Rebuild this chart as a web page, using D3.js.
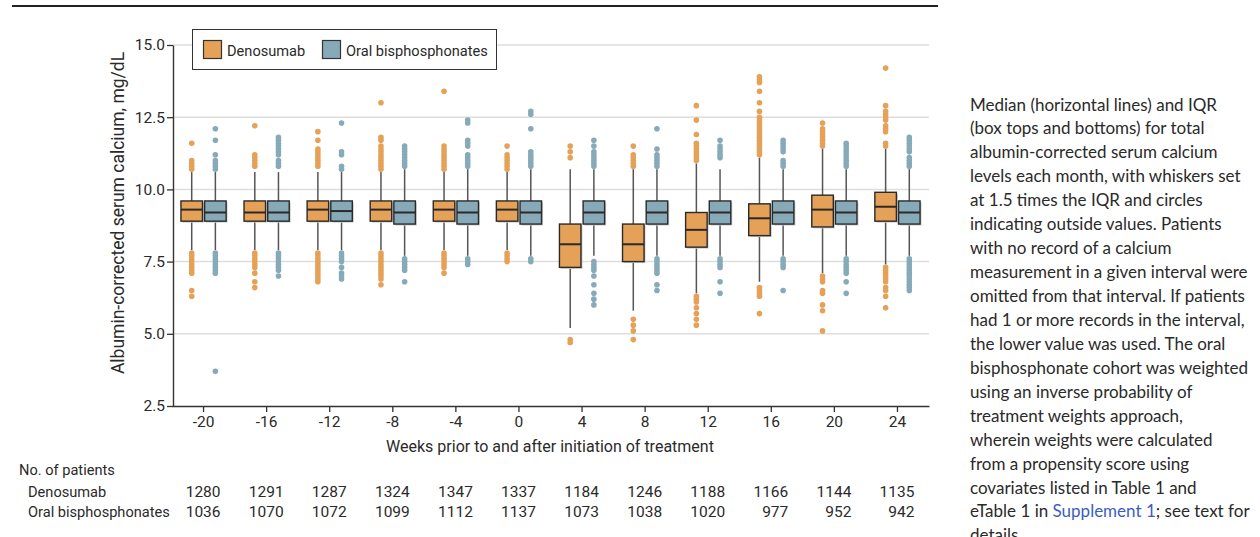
<!DOCTYPE html>
<html>
<head>
<meta charset="utf-8">
<script src="https://cdn.jsdelivr.net/npm/d3@7"></script>
<style>
body { margin: 0; background: #fff; }
svg text { font-family: Roboto, sans-serif; fill: #2a2a2a; }
</style>
</head>
<body>
<svg id="chart" width="1260" height="537"></svg>
<script>
// weeks relative to treatment start
var weeks = [-20, -16, -12, -8, -4, 0, 4, 8, 12, 16, 20, 24];

// Denosumab box stats (mg/dL)
var denoQ1  = [8.9, 8.9, 8.9, 8.9, 8.9, 8.9, 7.3, 7.5, 8.0, 8.4, 8.7, 8.9];
var denoMed = [9.3, 9.2, 9.3, 9.3, 9.3, 9.3, 8.1, 8.1, 8.6, 9.0, 9.3, 9.4];
var denoQ3  = [9.6, 9.6, 9.6, 9.6, 9.6, 9.6, 8.8, 8.8, 9.2, 9.5, 9.8, 9.9];
var denoLo  = [7.9, 7.9, 7.9, 7.9, 7.9, 7.9, 5.2, 5.8, 6.4, 6.8, 7.1, 7.4];
var denoHi  = [10.6, 10.6, 10.6, 10.6, 10.6, 10.6, 10.7, 10.7, 10.9, 11.1, 11.4, 11.4];
var denoOut = [
  [10.7, 10.8, 10.9, 11.0, 11.6, 7.8, 7.7, 7.6, 7.5, 7.4, 7.3, 7.2, 7.1, 6.5, 6.3],
  [10.8, 10.9, 11.0, 11.1, 11.2, 12.2, 7.8, 7.7, 7.6, 7.5, 7.4, 7.3, 7.1, 6.8, 6.6],
  [10.8, 10.9, 11.0, 11.1, 11.2, 11.3, 11.4, 11.7, 12.0, 7.8, 7.7, 7.6, 7.5, 7.4, 7.3, 7.2, 7.1, 7.0, 6.9, 6.8],
  [10.7, 10.8, 10.9, 11.0, 11.1, 11.2, 11.3, 11.4, 11.5, 11.7, 11.8, 13.0, 7.8, 7.7, 7.6, 7.5, 7.4, 7.3, 7.2, 7.1, 7.0, 6.9, 6.7],
  [10.7, 10.8, 10.9, 11.0, 11.1, 11.2, 11.3, 11.4, 11.5, 13.4, 7.8, 7.7, 7.6, 7.5, 7.4, 7.3, 7.1],
  [10.7, 10.8, 10.9, 11.0, 11.1, 11.2, 11.5, 7.8, 7.7, 7.6, 7.5],
  [11.1, 11.3, 11.5, 4.8, 4.7],
  [10.8, 10.9, 11.0, 11.1, 11.2, 11.5, 5.5, 5.3, 5.1, 4.8],
  [11.0, 11.1, 11.2, 11.3, 11.4, 11.5, 11.6, 11.9, 12.4, 12.9, 6.3, 6.2, 6.1, 5.9, 5.7, 5.5, 5.3],
  [11.2, 11.3, 11.4, 11.5, 11.6, 11.7, 11.8, 11.9, 12.0, 12.1, 12.2, 12.3, 12.4, 12.5, 12.7, 13.0, 13.4, 13.7, 13.8, 13.9, 6.6, 6.5, 6.4, 6.3, 5.7],
  [11.5, 11.6, 11.7, 11.8, 11.9, 12.0, 12.1, 12.3, 7.0, 6.9, 6.8, 6.5, 6.4, 6.0, 5.8, 5.1],
  [11.5, 11.6, 12.0, 12.1, 12.2, 12.4, 12.5, 12.6, 12.7, 12.9, 14.2, 7.3, 7.2, 7.1, 7.0, 6.9, 6.8, 6.6, 6.5, 6.3, 5.9]
];

// Oral bisphosphonates box stats (mg/dL)
var oralQ1  = [8.9, 8.9, 8.9, 8.8, 8.8, 8.8, 8.8, 8.8, 8.8, 8.8, 8.8, 8.8];
var oralMed = [9.2, 9.2, 9.25, 9.2, 9.2, 9.2, 9.2, 9.2, 9.2, 9.2, 9.2, 9.2];
var oralQ3  = [9.6, 9.6, 9.6, 9.6, 9.6, 9.6, 9.6, 9.6, 9.6, 9.6, 9.6, 9.6];
var oralLo  = [7.9, 7.9, 7.9, 7.7, 7.7, 7.7, 7.7, 7.7, 7.7, 7.7, 7.7, 7.7];
var oralHi  = [10.6, 10.6, 10.6, 10.7, 10.7, 10.7, 10.7, 10.7, 10.7, 10.7, 10.7, 10.7];
var oralOut = [
  [10.7, 10.8, 10.9, 11.0, 11.2, 11.7, 12.1, 7.8, 7.7, 7.6, 7.5, 7.4, 7.3, 7.2, 7.1, 3.7],
  [10.8, 10.9, 11.0, 11.2, 11.3, 11.4, 11.5, 11.6, 11.7, 11.8, 7.8, 7.7, 7.6, 7.5, 7.4, 7.3, 7.2, 7.0],
  [10.7, 10.8, 11.2, 11.3, 12.3, 7.8, 7.7, 7.6, 7.5, 7.3, 7.1, 7.0, 6.9],
  [10.8, 10.9, 11.0, 11.1, 11.2, 11.3, 11.4, 11.5, 7.6, 7.5, 7.4, 7.3, 7.2, 6.8],
  [10.8, 10.9, 11.0, 11.1, 11.2, 11.5, 11.6, 11.7, 12.3, 12.4, 7.6, 7.5, 7.4],
  [10.8, 10.9, 11.0, 11.1, 11.2, 11.3, 12.1, 12.6, 12.7, 7.6, 7.5],
  [10.8, 10.9, 11.0, 11.1, 11.2, 11.3, 11.5, 11.7, 7.5, 7.4, 7.3, 7.2, 7.0, 6.7, 6.4, 6.2, 6.0],
  [10.8, 10.9, 11.0, 11.1, 11.2, 11.4, 12.1, 7.6, 7.5, 7.4, 7.3, 7.2, 7.1, 6.7, 6.5],
  [11.1, 11.2, 11.3, 11.4, 11.5, 11.7, 7.6, 7.5, 7.4, 7.3, 6.8, 6.4],
  [10.8, 10.9, 11.0, 11.3, 11.4, 11.5, 11.6, 11.7, 7.6, 7.5, 7.4, 7.3, 6.5],
  [10.8, 10.9, 11.0, 11.1, 11.2, 11.3, 11.4, 11.5, 11.6, 7.6, 7.5, 7.4, 7.3, 7.2, 7.1, 6.8, 6.4],
  [10.8, 10.9, 11.0, 11.1, 11.3, 11.4, 11.5, 11.6, 11.7, 11.8, 7.6, 7.5, 7.4, 7.3, 7.2, 7.1, 7.0, 6.9, 6.8, 6.7, 6.6, 6.5]
];

// No. of patients
var nDeno = [1280, 1291, 1287, 1324, 1347, 1337, 1184, 1246, 1188, 1166, 1144, 1135];
var nOral = [1036, 1070, 1072, 1099, 1112, 1137, 1073, 1038, 1020, 977, 952, 942];

var yTicks = [2.5, 5.0, 7.5, 10.0, 12.5, 15.0];
var seriesNames = ["Denosumab", "Oral bisphosphonates"];
var seriesColors = ["#e5a157", "#86aab7"];

var captionLines = [
  "Median (horizontal lines) and IQR",
  "(box tops and bottoms) for total",
  "albumin-corrected serum calcium",
  "levels each month, with whiskers set",
  "at 1.5 times the IQR and circles",
  "indicating outside values. Patients",
  "with no record of a calcium",
  "measurement in a given interval were",
  "omitted from that interval. If patients",
  "had 1 or more records in the interval,",
  "the lower value was used. The oral",
  "bisphosphonate cohort was weighted",
  "using an inverse probability of",
  "treatment weights approach,",
  "wherein weights were calculated",
  "from a propensity score using",
  "covariates listed in Table 1 and",
  "eTable 1 in |Supplement 1|; see text for",
  "details."
];

var svg = d3.select("#chart");

// top rule
svg.append("line")
  .attr("x1", 12).attr("x2", 938).attr("y1", 6).attr("y2", 6)
  .attr("stroke", "#222").attr("stroke-width", 2);

var x = d3.scaleBand().domain(weeks).range([172, 929]);
var xi = d3.scaleBand().domain([0, 1]).range([-22.6, 22.6]).paddingInner(0.09);
var y = d3.scaleLinear().domain([2.5, 15]).range([406, 45]);
var bw = xi.bandwidth();

// gridlines
svg.append("g").selectAll("line")
  .data(yTicks.slice(1))
  .enter().append("line")
  .attr("x1", 173).attr("x2", 929)
  .attr("y1", d => y(d)).attr("y2", d => y(d))
  .attr("stroke", "#dedede").attr("stroke-width", 1.5);

// build groups
var groups = [];
weeks.forEach(function (w, i) {
  groups.push({w: w, s: 0, q1: denoQ1[i], med: denoMed[i], q3: denoQ3[i], lo: denoLo[i], hi: denoHi[i], out: denoOut[i]});
  groups.push({w: w, s: 1, q1: oralQ1[i], med: oralMed[i], q3: oralQ3[i], lo: oralLo[i], hi: oralHi[i], out: oralOut[i]});
});
function cx(d) { return x(d.w) + x.bandwidth() / 2 + xi(d.s) + bw / 2; }

var g = svg.append("g");
// whiskers
g.selectAll("line.whisker")
  .data(groups).enter().append("line")
  .attr("class", "whisker")
  .attr("x1", cx).attr("x2", cx)
  .attr("y1", d => y(d.lo)).attr("y2", d => y(d.hi))
  .attr("stroke", "#555").attr("stroke-width", 1.5);

// outliers
groups.forEach(function (d) {
  g.selectAll(null)
    .data(d.out).enter().append("circle")
    .attr("cx", cx(d))
    .attr("cy", v => y(v))
    .attr("r", 2.8)
    .attr("fill", seriesColors[d.s]);
});

// box shadows
g.selectAll("rect.shadow")
  .data(groups).enter().append("rect")
  .attr("x", d => cx(d) - bw / 2 + 1.5)
  .attr("y", d => y(d.q3) + 1.5)
  .attr("width", bw)
  .attr("height", d => y(d.q1) - y(d.q3))
  .attr("fill", "#cfcfcf");

// boxes
g.selectAll("rect.box")
  .data(groups).enter().append("rect")
  .attr("x", d => cx(d) - bw / 2)
  .attr("y", d => y(d.q3))
  .attr("width", bw)
  .attr("height", d => y(d.q1) - y(d.q3))
  .attr("fill", d => seriesColors[d.s])
  .attr("stroke", "#2a2a2a").attr("stroke-width", 1.4);

// medians
g.selectAll("line.median")
  .data(groups).enter().append("line")
  .attr("x1", d => cx(d) - bw / 2).attr("x2", d => cx(d) + bw / 2)
  .attr("y1", d => y(d.med)).attr("y2", d => y(d.med))
  .attr("stroke", "#2a2a2a").attr("stroke-width", 2);

// axes
var yAxis = svg.append("g")
  .attr("transform", "translate(173,0)")
  .call(d3.axisLeft(y).tickValues(yTicks).tickFormat(d3.format(".1f")).tickSize(6).tickSizeOuter(0));
var xAxis = svg.append("g")
  .attr("transform", "translate(0,406)")
  .call(d3.axisBottom(x).tickSize(6).tickSizeOuter(0));
[yAxis, xAxis].forEach(function (a) {
  a.select(".domain").attr("stroke", "#333").attr("stroke-width", 1.4);
  a.selectAll(".tick line").attr("stroke", "#333").attr("stroke-width", 1.3);
  a.selectAll(".tick text").attr("font-size", 15.5).attr("fill", "#2a2a2a")
    .style("font-family", "Roboto, sans-serif");
});
yAxis.selectAll(".tick text").attr("x", -8);
xAxis.selectAll(".tick text").attr("y", 10);

// axis titles
svg.append("text")
  .attr("transform", "translate(124,213) rotate(-90)")
  .attr("text-anchor", "middle")
  .attr("font-size", 17.5)
  .text("Albumin-corrected serum calcium, mg/dL");
svg.append("text")
  .attr("x", 550).attr("y", 452)
  .attr("text-anchor", "middle")
  .attr("font-size", 16)
  .text("Weeks prior to and after initiation of treatment");

// legend
var leg = svg.append("g");
leg.append("rect")
  .attr("x", 192.5).attr("y", 29.5).attr("width", 304).attr("height", 40)
  .attr("fill", "#fff").attr("stroke", "#333").attr("stroke-width", 1);
var legX = [203, 322];
seriesNames.forEach(function (name, i) {
  leg.append("rect")
    .attr("x", legX[i] + 0.5).attr("y", 40.5).attr("width", 18).attr("height", 18)
    .attr("fill", seriesColors[i]).attr("stroke", "#333").attr("stroke-width", 1.2);
  leg.append("text")
    .attr("x", legX[i] + 24).attr("y", 55.5)
    .attr("font-size", 14.6)
    .text(name);
});

// patients table
svg.append("text").attr("x", 19).attr("y", 475).attr("font-size", 14.6).text("No. of patients");
svg.append("text").attr("x", 28).attr("y", 497).attr("font-size", 14.6).text(seriesNames[0]);
svg.append("text").attr("x", 28).attr("y", 517).attr("font-size", 14.6).text(seriesNames[1]);
[nDeno, nOral].forEach(function (arr, r) {
  svg.append("g").selectAll("text")
    .data(arr).enter().append("text")
    .attr("x", (d, i) => x(weeks[i]) + x.bandwidth() / 2 + 17)
    .attr("y", 497 + r * 20)
    .attr("text-anchor", "end")
    .attr("font-size", 15.5)
    .text(d => d);
});

// caption
var cap = svg.append("g");
captionLines.forEach(function (line, i) {
  var t = cap.append("text")
    .attr("x", 970).attr("y", 110.5 + i * 23.94)
    .attr("font-size", 17)
    .style("font-family", "Lato, sans-serif");
  line.split("|").forEach(function (part, k) {
    t.append("tspan")
      .attr("fill", k === 1 ? "#3a5ec4" : "#2a2a2a")
      .text(part);
  });
});
</script>
</body>
</html>
